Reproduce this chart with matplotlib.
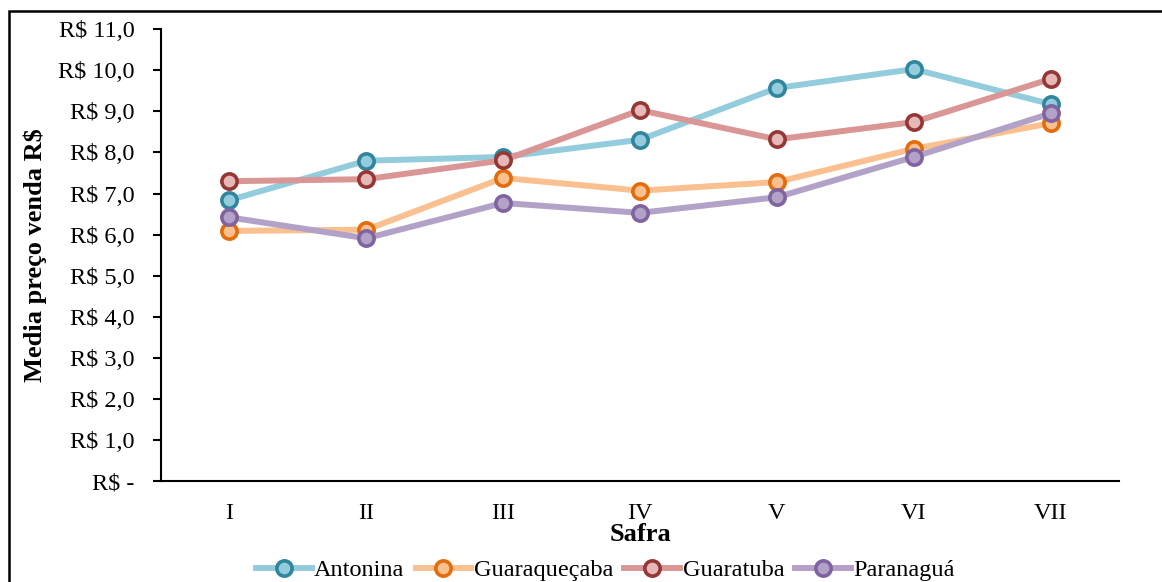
import matplotlib
matplotlib.use("Agg")
import matplotlib.pyplot as plt
from matplotlib.patches import Rectangle

plt.rcParams['font.family'] = ['Liberation Serif', 'DejaVu Serif']

# --- dados ---
safras = ["I", "II", "III", "IV", "V", "VI", "VII"]
antonina = [6.84, 7.80, 7.89, 8.31, 9.57, 10.03, 9.18]
guaraquecaba = [6.09, 6.12, 7.38, 7.07, 7.28, 8.09, 8.71]
guaratuba = [7.30, 7.35, 7.81, 9.03, 8.32, 8.74, 9.79]
paranagua = [6.42, 5.91, 6.77, 6.53, 6.91, 7.89, 8.95]
yticks = [0, 1, 2, 3, 4, 5, 6, 7, 8, 9, 10, 11]

series = [
    ("Antonina", antonina, "#93CDDD", "#31859C", "#93CDDD"),
    ("Guaraqueçaba", guaraquecaba, "#FAC090", "#E46C0A", "#FAC090"),
    ("Guaratuba", guaratuba, "#D99694", "#953735", "#E6B9B8"),
    ("Paranaguá", paranagua, "#B3A2C7", "#8064A2", "#B3A2C7"),
]

fig = plt.figure(figsize=(11.62, 5.82), dpi=100)
ax = fig.add_axes([0.1386, 0.1735, 0.8244, 0.7762])

x = list(range(len(safras)))
for nome, vals, cor, borda, face in series:
    ax.plot(x, vals, color=cor, linewidth=4.3, marker='o', markersize=11,
            markeredgewidth=2.6, markeredgecolor=borda, markerfacecolor=face,
            label=nome, solid_joinstyle='round')

ax.set_xlim(-0.5, len(safras) - 0.5)
ax.set_ylim(0, 11)
ax.set_yticks(yticks)
ax.set_yticklabels(["R$ -"] + [f"R$ {v},0" for v in yticks[1:]], fontsize=17.5)
ax.set_xticks(x)
ax.set_xticklabels(safras, fontsize=17.5)
ax.tick_params(axis='x', length=0, pad=16)
ax.tick_params(axis='y', length=6, width=1.5, pad=13)
ax.spines['top'].set_visible(False)
ax.spines['right'].set_visible(False)
ax.spines['left'].set_linewidth(1.5)
ax.spines['bottom'].set_linewidth(1.5)

ax.set_ylabel("Media preço venda R$", fontsize=19, fontweight='bold', labelpad=8)
ax.set_xlabel("Safra", fontsize=19, fontweight='bold', labelpad=-1)

fig.legend(loc='center', bbox_to_anchor=(0.521, 0.02), ncol=4, frameon=False,
           fontsize=17.5, handlelength=2.3, handletextpad=0.1, columnspacing=0.45)

# moldura do grafico
fig.patches.append(Rectangle((9 / 1162, -0.1), 1.2, 1 - 11 / 582 + 0.1,
                             transform=fig.transFigure, fill=False,
                             edgecolor='black', linewidth=1.8))

fig.savefig("out.png", dpi=100)
